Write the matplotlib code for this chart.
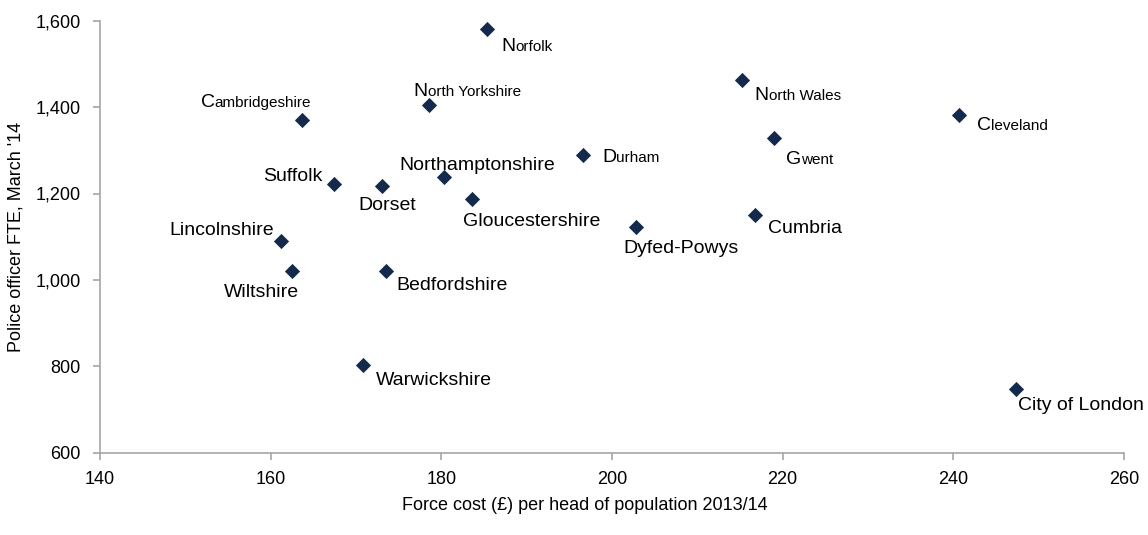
import matplotlib
matplotlib.use("Agg")
import matplotlib.pyplot as plt
from matplotlib.offsetbox import TextArea, HPacker, AnnotationBbox
from matplotlib.ticker import FuncFormatter

# data
forces = ["Cambridgeshire", "Suffolk", "Dorset", "Lincolnshire", "Wiltshire",
          "Bedfordshire", "Warwickshire", "Norfolk", "North Yorkshire",
          "Northamptonshire", "Gloucestershire", "Durham", "Dyfed-Powys",
          "North Wales", "Cumbria", "Gwent", "Cleveland", "City of London"]
cost_per_head = [163.7, 167.4, 173.1, 161.2, 162.5, 173.5, 170.8, 185.3, 178.6,
                 180.3, 183.6, 196.6, 202.8, 215.2, 216.8, 219.0, 240.7, 247.3]
officers_fte = [1370, 1223, 1217, 1091, 1020, 1020, 802, 1581, 1406,
                1238, 1187, 1288, 1122, 1463, 1150, 1329, 1381, 747]

# labels drawn with a big first letter and smaller rest
smallcaps = {"Cambridgeshire", "Norfolk", "North Yorkshire", "Durham",
             "North Wales", "Gwent", "Cleveland"}

# label placement: (dx px, baseline dy px downward, horizontal anchor)
label_pos = {
    "Cambridgeshire": (9, -13, 1), "Suffolk": (-11, -3, 1),
    "Dorset": (-24, 24, 0), "Lincolnshire": (-7, -6, 1),
    "Wiltshire": (7, 26, 1), "Bedfordshire": (11, 19, 0),
    "Warwickshire": (13, 20, 0), "Norfolk": (15, 22, 0),
    "North Yorkshire": (-16, -9, 0), "Northamptonshire": (-45, -7, 0),
    "Gloucestershire": (-9, 27, 0), "Durham": (19, 7, 0),
    "Dyfed-Powys": (-13, 26, 0), "North Wales": (13, 20, 0),
    "Cumbria": (13, 18, 0), "Gwent": (12, 26, 0),
    "Cleveland": (18, 15, 0), "City of London": (2, 21, 0),
}

plt.rcParams['font.family'] = ['Liberation Sans', 'DejaVu Sans']
navy = "#142a4c"
grey = "#a6a6a6"
big, small = 14, 11
px = 72 / 100  # points per pixel

fig = plt.figure(figsize=(11.48, 5.35), dpi=100)
ax = fig.add_axes([100 / 1148, 1 - 452.7 / 535, 1024 / 1148, 432 / 535])

ax.scatter(cost_per_head, officers_fte, marker="D", s=60, color=navy,
           linewidths=0, zorder=3)

for name, x, y in zip(forces, cost_per_head, officers_fte):
    dx, dy, ha = label_pos[name]
    if name in smallcaps:
        parts = [TextArea(name[0], textprops=dict(size=big, color="black")),
                 TextArea(name[1:], textprops=dict(size=small, color="black"))]
    else:
        parts = [TextArea(name, textprops=dict(size=big, color="black"))]
    box = HPacker(children=parts, align="baseline", pad=0, sep=0)
    # bottom of the box sits about 4 px below the baseline
    ab = AnnotationBbox(box, (x, y), xybox=(dx * px, -(dy + 4) * px),
                        xycoords="data", boxcoords="offset points",
                        box_alignment=(ha, 0), frameon=False, pad=0)
    ax.add_artist(ab)

ax.set_xlim(140, 260)
ax.set_ylim(600, 1600)
ax.set_xticks(range(140, 261, 20))
ax.set_yticks(range(600, 1601, 200))
ax.yaxis.set_major_formatter(FuncFormatter(lambda v, p: f"{int(v):,}"))

for side in ["top", "right"]:
    ax.spines[side].set_visible(False)
for side in ["left", "bottom"]:
    ax.spines[side].set_color(grey)
    ax.spines[side].set_linewidth(1.2)
ax.tick_params(axis="both", direction="out", length=5, width=1.2, color=grey,
               labelsize=13, labelcolor="black")
ax.tick_params(axis="x", pad=8)
ax.tick_params(axis="y", pad=9)

fig.text(585 / 1148, 1 - 506 / 535, "Force cost (\u00a3) per head of population 2013/14",
         ha="center", va="center", fontsize=13)
fig.text(16 / 1148, 1 - 236.7 / 535, "Police officer FTE, March '14",
         ha="center", va="center", rotation=90, fontsize=13)

fig.savefig("out.png", dpi=100)
